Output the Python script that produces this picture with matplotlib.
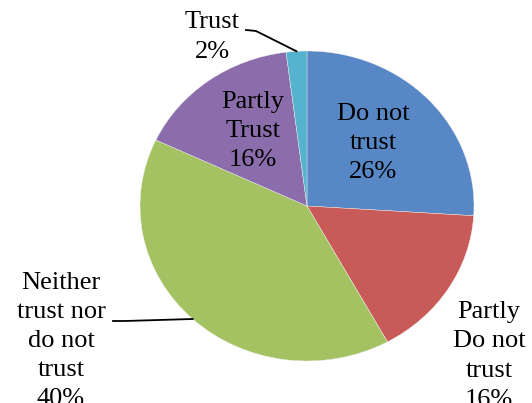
import matplotlib.pyplot as plt
import numpy as np

# data
labels = ['Do not\ntrust', 'Partly\nDo not\ntrust', 'Neither\ntrust nor\ndo not\ntrust',
          'Partly\nTrust', 'Trust']
values = [26, 16, 40, 16, 2]
colors = ['#5787C4', '#C85A57', '#A5C263', '#8A6DAA', '#55B3CE']

# layout (pixel positions of the picture)
W, H = 532, 403
cx, cy = 307, 206      # pie centre
rx, ry = 167, 155      # pie is a bit wider than tall
k = rx / ry

def px(x, y):
    # picture pixel -> data coords
    return x, (H - y) * k

label_pos = [(373, 143), (489, 356), (61, 341), (253, 131), (212, 37)]
# leader line start and knee for the outside labels
leaders = {2: [(113, 321), (125, 321)], 4: [(246, 30), (256, 31)]}

plt.rcParams['font.family'] = ['Liberation Serif', 'DejaVu Serif']

fig = plt.figure(figsize=(W / 100, H / 100), dpi=100)
ax = fig.add_axes([0, 0, 1, 1])

c = px(cx, cy)
wedges, _ = ax.pie(values, colors=colors, startangle=90, counterclock=False,
                   center=c, radius=rx, frame=True,
                   wedgeprops=dict(linewidth=0.3, edgecolor='#f0f0f0'))
ax.set_xlim(0, W)
ax.set_ylim(0, H * k)
ax.set_aspect('auto')
ax.axis('off')

for i, (lab, v) in enumerate(zip(labels, values)):
    x, y = px(*label_pos[i])
    ax.text(x, y, '%s\n%d%%' % (lab, v), ha='center', va='center',
            multialignment='center', fontsize=19, linespacing=1.42, color='black')
    if i in leaders:
        w = wedges[i]
        mid = np.deg2rad((w.theta1 + w.theta2) / 2)
        ex = c[0] + rx * np.cos(mid)
        ey = c[1] + rx * np.sin(mid)
        pts = [px(*p) for p in leaders[i]] + [(ex, ey)]
        ax.plot([p[0] for p in pts], [p[1] for p in pts], color='black', lw=1.3)

fig.savefig('out.png', dpi=100)
